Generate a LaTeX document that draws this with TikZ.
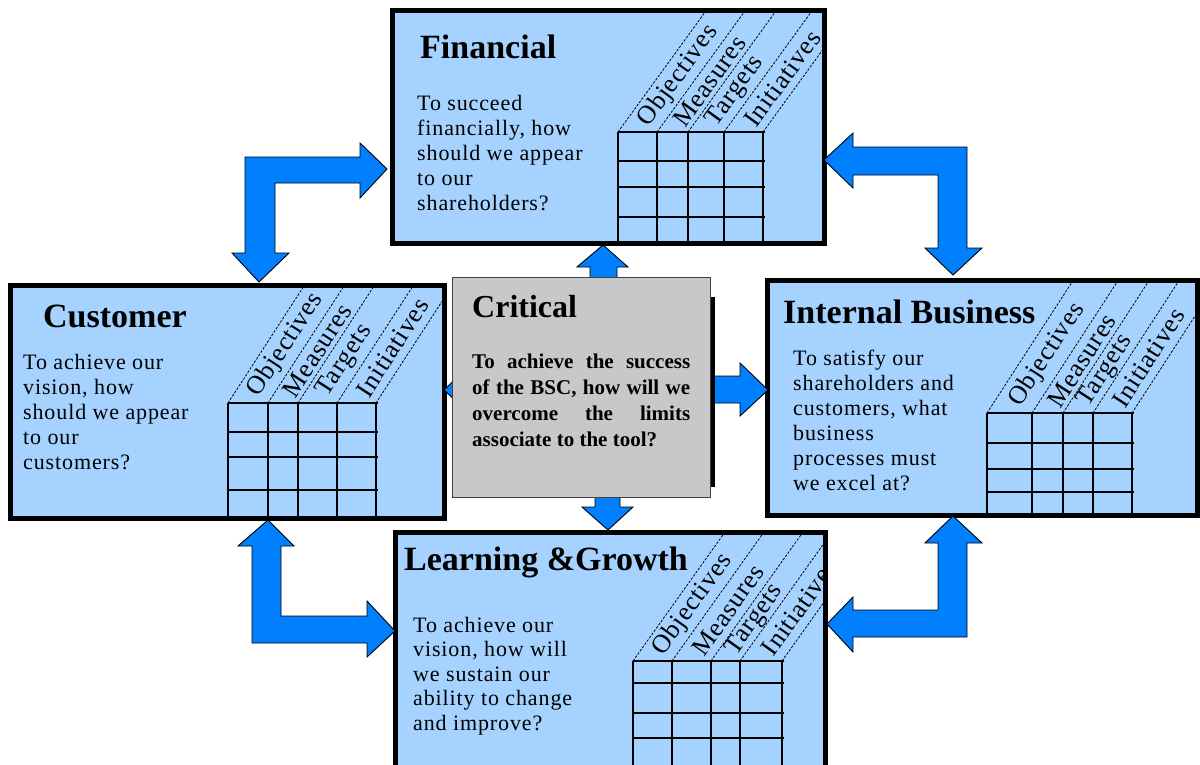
\documentclass[tikz,border=0pt]{standalone}
\usepackage{fontspec}
\setmainfont{Liberation Serif}
\newfontfamily\questionfont{Liberation Serif}[LetterSpace=4]
\newfontfamily\headfont{Liberation Serif}[LetterSpace=3]
\usetikzlibrary{calc}

\definecolor{cardblue}{RGB}{166,210,255}
\definecolor{flowblue}{RGB}{0,128,255}
\definecolor{critgray}{RGB}{200,200,200}

\tikzset{
  card/.style={rectangle, draw=black, line width=5pt, fill=cardblue, inner sep=0pt},
  critcard/.style={rectangle, draw=black!75, line width=1pt, fill=critgray, inner sep=0pt},
  cardtitle/.style={anchor=base west, inner sep=0pt, font=\fontsize{34}{40}\selectfont\bfseries},
  question/.style={anchor=base west, inner sep=0pt},
  gridrule/.style={draw=black, line width=1.6pt},
  slantrule/.style={draw=black, line width=0.8pt, dash pattern=on 2.5pt off 1.5pt},
  colhead/.style={inner sep=0pt, anchor=west, font=\headfont\fontsize{26}{26}\selectfont},
  flow/.style={fill=flowblue, draw=black, line width=0.9pt, line join=miter},
}

% measure table of a perspective card:
% #1 card name, #2-#6 column edges, #7 top of the table, #8 inner row rules, #9 slant angle
\newcommand{\scoregrid}[9]{%
  \begin{scope}
    \clip ($(#1.north west)+(5,5)$) rectangle ($(#1.south east)+(-5,-5)$);
    \foreach \cx in {#2,#3,#4,#5,#6} {
      \draw[gridrule] (\cx,#7) -- (\cx,800);
      \draw[slantrule] (\cx,#7) -- ++({330*cos(#9)},{-330*sin(#9)});
    }
    \foreach \ry in {#7,#8} \draw[gridrule] (#2,\ry) -- ({#6+2},\ry);
    \node[colhead, rotate=#9] (#1-obj) at ($({(#2+#3)/2},#7)+({10*cos(#9)},{-10*sin(#9)})$) {Objectives};
    \node[colhead, rotate=#9] (#1-mea) at ($({(#3+#4)/2},#7)+({10*cos(#9)},{-10*sin(#9)})$) {Measures};
    \node[colhead, rotate=#9] (#1-tar) at ($({(#4+#5)/2},#7)+({10*cos(#9)},{-10*sin(#9)})$) {Targets};
    \node[colhead, rotate=#9] (#1-ini) at ($({(#5+#6)/2},#7)+({10*cos(#9)},{-10*sin(#9)})$) {Initiatives};
  \end{scope}}

\begin{document}
\begin{tikzpicture}[x=1pt, y=-1pt]
\useasboundingbox (0,0) rectangle (1200,764);

% the four perspective cards
\node[card, minimum width=432pt, minimum height=233pt] (fin) at (608.5,127) {};
\node[card, minimum width=434pt, minimum height=233pt] (cus) at (227.5,402) {};
\node[card, minimum width=430pt, minimum height=235pt] (ib)  at (982.5,398) {};
\node[card, minimum width=430pt, minimum height=235pt] (lg)  at (610.5,650) {};

\scoregrid{fin}{618}{657}{688}{724}{763}{132}{161,187,217}{54}
\scoregrid{cus}{228}{268}{298}{337}{376}{403}{432,457,490}{57}
\scoregrid{ib}{987}{1032}{1063}{1093}{1132}{413}{443,469,492}{57}
\scoregrid{lg}{633}{672}{711}{740}{782}{661}{683,713,738}{54.5}

% titles
\node[cardtitle] (fin-t) at (420,58) {Financial};
\node[cardtitle] (cus-t) at (43,327) {Customer};
\node[cardtitle] (ib-t)  at (783,323) {Internal Business};
\node[cardtitle] (lg-t)  at (404,570) {Learning \&Growth};

% questions
\node[question] (fin-q) at (417,110) {\parbox[t]{200pt}{\questionfont\fontsize{22}{25.2}\selectfont
  To succeed\\financially, how\\should we appear\\to our\\shareholders?}};
\node[question] (cus-q) at (23,369) {\parbox[t]{200pt}{\questionfont\fontsize{22}{25}\selectfont
  To achieve our\\vision, how\\should we appear\\to our\\customers?}};
\node[question] (ib-q) at (793,365) {\parbox[t]{200pt}{\questionfont\fontsize{22}{25}\selectfont
  To satisfy our\\shareholders and\\customers, what\\business\\processes must\\we excel at?}};
\node[question] (lg-q) at (413,632) {\parbox[t]{200pt}{\questionfont\fontsize{22}{24.5}\selectfont
  To achieve our\\vision, how will\\we sustain our\\ability to change\\and improve?}};

% corner arrows linking the cards
\draw[flow] (387,169) -- (360,143) -- (360,157) -- (245,157) -- (245,253) -- (232,253)
  -- (259,282) -- (289,253) -- (275,253) -- (275,183) -- (360,183) -- (360,198) -- cycle;
\draw[flow] (824,160) -- (853,133) -- (853,147) -- (967,147) -- (967,248) -- (982,248)
  -- (953,275) -- (925,248) -- (938,248) -- (938,175) -- (853,175) -- (853,188) -- cycle;
\draw[flow] (268,520) -- (294,546) -- (281,546) -- (281,616) -- (367,616) -- (367,601)
  -- (395,631) -- (367,657) -- (367,643) -- (252,643) -- (252,546) -- (238,546) -- cycle;
\draw[flow] (953,516) -- (982,543) -- (967,543) -- (967,637) -- (853,637) -- (853,652)
  -- (827,624) -- (853,597) -- (853,610) -- (938,610) -- (938,543) -- (925,543) -- cycle;

% arrows leaving the central card
\draw[flow] (603,245) -- (628,267) -- (617,267) -- (617,300) -- (590,300) -- (590,267) -- (577,267) -- cycle;
\draw[flow] (608,530) -- (633,507) -- (620,507) -- (620,480) -- (595,480) -- (595,507) -- (582,507) -- cycle;
\draw[flow] (768,390) -- (740,363) -- (740,376) -- (690,376) -- (690,403) -- (740,403) -- (740,416) -- cycle;
\draw[flow] (444,390) -- (472,363) -- (472,376) -- (520,376) -- (520,403) -- (472,403) -- (472,416) -- cycle;

% central card with its shadow
\fill[black] (600,297) rectangle (715,487);
\node[critcard, minimum width=258pt, minimum height=220pt] (crit) at (581,387) {};
\node[cardtitle, font=\fontsize{32}{36}\selectfont\bfseries] (crit-t) at (472,317) {Critical};
\node[question] (crit-q) at (472,368) {\parbox[t]{218pt}{\tolerance=10000\hbadness=10000
  \fontsize{21}{26.3}\selectfont\bfseries
  To achieve the success\linebreak of the BSC, how will we\linebreak
  overcome the limits\linebreak associate to the tool?}};
\end{tikzpicture}
\end{document}
